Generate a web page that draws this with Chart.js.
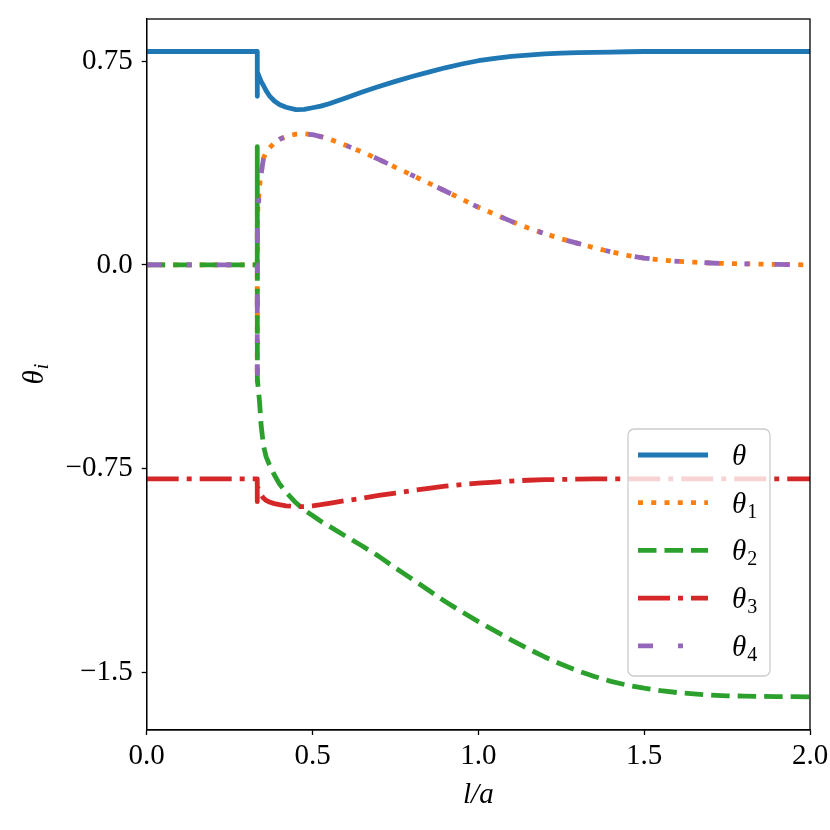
<!DOCTYPE html>
<html>
<head>
<meta charset="utf-8">
<script src="https://cdn.jsdelivr.net/npm/chart.js@4.4.1/dist/chart.umd.min.js"></script>
<style>
  html, body { margin: 0; padding: 0; background: #fff; }
  canvas { display: block; }
</style>
</head>
<body>
<canvas id="canvas" width="830" height="830"></canvas>
<script>
// l/a sample positions (shared by all curves), the jump sits at l/a = 1/3
var la = [0, 0.3333, 0.3334, 0.3336, 0.34, 0.345, 0.352, 0.36, 0.37, 0.385,
  0.40, 0.42, 0.45, 0.475, 0.50, 0.525, 0.55, 0.60, 0.65, 0.70,
  0.75, 0.80, 0.85, 0.90, 0.95, 1.00, 1.05, 1.10, 1.15, 1.20,
  1.25, 1.30, 1.35, 1.40, 1.45, 1.50, 1.55, 1.60, 1.65, 1.70,
  1.75, 1.80, 1.85, 1.90, 1.95, 2.00];

var theta = [0.785, 0.785, 0.62, 0.71, 0.69, 0.675, 0.66, 0.641, 0.622, 0.603,
  0.590, 0.580, 0.571, 0.572, 0.578, 0.584, 0.593, 0.614, 0.636, 0.656,
  0.675, 0.693, 0.709, 0.725, 0.739, 0.751, 0.760, 0.767, 0.772, 0.776,
  0.779, 0.781, 0.782, 0.783, 0.784, 0.785, 0.785, 0.785, 0.785, 0.785,
  0.785, 0.785, 0.785, 0.785, 0.785, 0.785];

var theta1 = [0, 0, -0.43, 0.18, 0.29, 0.338, 0.392, 0.415, 0.43, 0.449,
  0.462, 0.472, 0.481, 0.482, 0.479, 0.472, 0.463, 0.440, 0.415, 0.388,
  0.359, 0.330, 0.301, 0.272, 0.242, 0.212, 0.186, 0.160, 0.136, 0.115,
  0.096, 0.079, 0.063, 0.048, 0.035, 0.025, 0.018, 0.013, 0.010, 0.007,
  0.005, 0.004, 0.003, 0.002, 0.001, 0.0];

var theta2 = [0, 0, 0.435, -0.42, -0.50, -0.59, -0.665, -0.705, -0.735, -0.773,
  -0.805, -0.836, -0.875, -0.902, -0.922, -0.943, -0.961, -0.998, -1.034, -1.072,
  -1.115, -1.155, -1.197, -1.238, -1.276, -1.312, -1.346, -1.380, -1.412, -1.442,
  -1.469, -1.493, -1.514, -1.532, -1.546, -1.557, -1.566, -1.573, -1.578, -1.582,
  -1.585, -1.586, -1.587, -1.588, -1.588, -1.589];

var theta3 = [-0.787, -0.787, -0.871, -0.815, -0.832, -0.845, -0.858, -0.866, -0.872, -0.878,
  -0.882, -0.886, -0.889, -0.889, -0.886, -0.882, -0.877, -0.867, -0.858, -0.848,
  -0.839, -0.830, -0.822, -0.814, -0.808, -0.803, -0.799, -0.795, -0.792, -0.790,
  -0.789, -0.788, -0.787, -0.787, -0.787, -0.787, -0.787, -0.787, -0.787, -0.787,
  -0.787, -0.787, -0.787, -0.787, -0.787, -0.787];

var theta4 = [0, 0, -0.40, 0.15, 0.28, 0.335, 0.39, 0.415, 0.43, 0.449,
  0.462, 0.472, 0.481, 0.482, 0.479, 0.472, 0.463, 0.440, 0.415, 0.388,
  0.359, 0.330, 0.301, 0.272, 0.242, 0.212, 0.186, 0.160, 0.136, 0.115,
  0.096, 0.079, 0.063, 0.048, 0.035, 0.025, 0.018, 0.013, 0.010, 0.007,
  0.005, 0.004, 0.003, 0.002, 0.001, 0.0];

var seriesNames = ['θ', 'θ₁', 'θ₂', 'θ₃', 'θ₄'];

var xTickValues = [0, 0.5, 1, 1.5, 2];
var xTickLabels = ['0.0', '0.5', '1.0', '1.5', '2.0'];
var yTickValues = [-1.5, -0.75, 0, 0.75];
var yTickLabels = ['−1.5', '−0.75', '0.0', '0.75'];

var SERIF = "'Liberation Serif', 'DejaVu Serif', serif";
var LW = 4.8;

function pts(ys) {
  return la.map(function (x, i) { return { x: x, y: ys[i] }; });
}

// frame round the plot area, like matplotlib spines
var framePlugin = {
  id: 'frame',
  afterDatasetsDraw: function (chart) {
    var a = chart.chartArea, c = chart.ctx;
    c.save();
    c.strokeStyle = '#000';
    c.lineWidth = 1.3;
    c.strokeRect(a.left, a.top, a.right - a.left, a.bottom - a.top);
    c.restore();
  }
};

// draws "θ" + small subscript
function drawSubLabel(c, base, sub, x, y, big, small, drop) {
  c.font = 'italic ' + big + 'px ' + SERIF;
  var w1 = c.measureText(base).width;
  c.fillText(base, x, y);
  if (sub) {
    c.font = (sub === 'i' ? 'italic ' : '') + small + 'px ' + SERIF;
    c.fillText(sub, x + w1 + 1, y + drop);
  }
}

var labelsPlugin = {
  id: 'labels',
  afterDraw: function (chart) {
    var a = chart.chartArea, c = chart.ctx;
    c.save();
    c.fillStyle = '#000';
    c.textAlign = 'left';
    c.textBaseline = 'alphabetic';

    // x axis title
    c.font = 'italic 29px ' + SERIF;
    var t = 'l/a';
    var tw = c.measureText(t).width;
    c.fillText(t, (a.left + a.right) / 2 - tw / 2, 803);

    // y axis title, rotated
    c.save();
    c.translate(43, (a.top + a.bottom) / 2);
    c.rotate(-Math.PI / 2);
    c.font = 'italic 29px ' + SERIF;
    var w0 = c.measureText('θ').width;
    c.font = 'italic 20px ' + SERIF;
    var wi = c.measureText('i').width;
    drawSubLabel(c, 'θ', 'i', -(w0 + wi) / 2, 0, 29, 20, 5);
    c.restore();

    // legend box
    var lw = 142, lh = 247;
    var lx = a.right - 40 - lw, ly = a.bottom - 54 - lh;
    c.beginPath();
    c.roundRect(lx, ly, lw, lh, 6);
    c.fillStyle = 'rgba(255,255,255,0.8)';
    c.fill();
    c.strokeStyle = '#cccccc';
    c.lineWidth = 1.3;
    c.stroke();

    chart.data.datasets.forEach(function (ds, i) {
      var yy = ly + 26 + i * 47.7;
      c.save();
      c.strokeStyle = ds.borderColor;
      c.lineWidth = ds.borderWidth;
      c.lineCap = 'butt';
      c.setLineDash(ds.borderDash || []);
      c.beginPath();
      c.moveTo(lx + 10, yy);
      c.lineTo(lx + 80, yy);
      c.stroke();
      c.restore();

      var lab = ds.label;
      var sub = lab.slice(1).split('').map(function (ch) {
        return String.fromCharCode(ch.charCodeAt(0) - 0x2080 + 48);
      }).join('');
      c.fillStyle = '#000';
      drawSubLabel(c, lab[0], sub, lx + 104, yy + 10, 29, 20, 5);
    });
    c.restore();
  }
};

var colors = ['#1f77b4', '#ff7f0e', '#2ca02c', '#d62728', '#9467bd'];
var dashes = [[], [5, 8.25], [18.5, 8], [32, 8, 5, 8], [15, 25, 5, 25]];
var series = [theta, theta1, theta2, theta3, theta4];

var ctx = document.getElementById('canvas');
new Chart(ctx, {
  type: 'line',
  data: {
    datasets: series.map(function (s, i) {
      return {
        label: seriesNames[i],
        data: pts(s),
        borderColor: colors[i],
        backgroundColor: 'transparent',
        borderWidth: LW,
        borderDash: dashes[i],
        borderCapStyle: 'butt',
        borderJoinStyle: 'round',
        pointRadius: 0,
        tension: 0,
        fill: false,
        order: 4 - i // θ4 ends up on top
      };
    })
  },
  options: {
    responsive: false,
    animation: false,
    devicePixelRatio: 1,
    layout: { padding: { left: 0, top: 19, right: 20, bottom: 0 } },
    plugins: {
      legend: { display: false },
      tooltip: { enabled: false }
    },
    scales: {
      x: {
        type: 'linear',
        min: 0,
        max: 2,
        afterBuildTicks: function (scale) {
          scale.ticks = xTickValues.map(function (v) { return { value: v }; });
        },
        afterFit: function (scale) {
          scale.height = 100;
          scale.paddingLeft = 0;
          scale.paddingRight = 0;
        },
        ticks: {
          color: '#000',
          padding: 4,
          maxRotation: 0,
          font: { family: SERIF, size: 29 },
          callback: function (v) { return xTickLabels[xTickValues.indexOf(v)]; }
        },
        grid: { drawOnChartArea: false, tickLength: 5, color: '#000', tickWidth: 1.3 },
        border: { display: true, color: '#000', width: 1.3 }
      },
      y: {
        type: 'linear',
        min: -1.7107,
        max: 0.9045,
        afterBuildTicks: function (scale) {
          scale.ticks = yTickValues.map(function (v) { return { value: v }; });
        },
        afterFit: function (scale) {
          scale.width = 146.7;
          scale.paddingTop = 0;
          scale.paddingBottom = 0;
        },
        ticks: {
          color: '#000',
          padding: 9,
          font: { family: SERIF, size: 29 },
          callback: function (v) { return yTickLabels[yTickValues.indexOf(v)]; }
        },
        grid: { drawOnChartArea: false, tickLength: 5, color: '#000', tickWidth: 1.3 },
        border: { display: true, color: '#000', width: 1.3 }
      }
    }
  },
  plugins: [framePlugin, labelsPlugin]
});
</script>
</body>
</html>
